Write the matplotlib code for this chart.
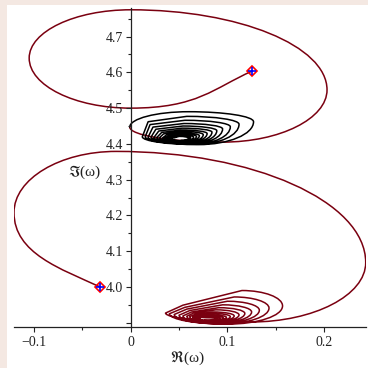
import matplotlib
matplotlib.use("Agg")
import matplotlib.pyplot as plt
from matplotlib.path import Path
from matplotlib.patches import PathPatch, Rectangle

plt.rcParams['mathtext.fontset'] = 'stix'
plt.rcParams['font.family'] = ['Liberation Serif', 'DejaVu Serif']

RED = '#7A0010'

# start points of the two trajectories and the direction they leave in
start_upper = (0.1258, 4.604)
start_lower = (-0.0317, 4.000)
lead_upper = (-0.040, -0.048)
lead_lower = (-0.040, 0.050)

# upper trajectory: big loop (extreme points, with tangent kind)
upper_x = [0.000, -0.105, 0.000, 0.203, 0.095, -0.001]
upper_y = [4.500, 4.640, 4.775, 4.551, 4.405, 4.447]
upper_k = ['h', 'v', 'h', 'v', 'h', 'v']

# upper spiral, first loop then the coarse inner loops
blk_first_x = [-0.001, 0.060, 0.127, 0.070]
blk_first_y = [4.447, 4.490, 4.462, 4.398]
blk_first_k = ['v', 'h', 'v', 'h']
blk_left_x = [0.012, 0.015, 0.018, 0.021, 0.024, 0.027, 0.030, 0.033, 0.035, 0.037, 0.039, 0.041]
blk_left_y = [4.420, 4.420, 4.419, 4.419, 4.418, 4.418, 4.418, 4.417, 4.417, 4.417, 4.417, 4.416]
blk_hi_x = [0.018, 0.020, 0.023, 0.026, 0.029, 0.032, 0.034, 0.037, 0.039, 0.041, 0.043, 0.045]
blk_hi_y = [4.462, 4.454, 4.447, 4.441, 4.436, 4.432, 4.428, 4.425, 4.422, 4.420, 4.418, 4.417]
blk_top_x = [0.058, 0.056, 0.055, 0.054, 0.053, 0.052, 0.051, 0.051, 0.050, 0.050, 0.050, 0.050]
blk_top_y = [4.477, 4.466, 4.457, 4.450, 4.444, 4.439, 4.435, 4.431, 4.428, 4.425, 4.423, 4.421]
blk_right_x = [0.112, 0.103, 0.095, 0.089, 0.084, 0.079, 0.075, 0.071, 0.068, 0.065, 0.062, 0.060]
blk_right_y = [4.455, 4.448, 4.442, 4.437, 4.433, 4.429, 4.426, 4.423, 4.421, 4.419, 4.417, 4.416]
blk_bot_x = [0.068, 0.066, 0.064, 0.062, 0.060, 0.058, 0.057, 0.056, 0.055, 0.054, 0.053, 0.052]
blk_bot_y = [4.399, 4.400, 4.401, 4.402, 4.403, 4.404, 4.405, 4.406, 4.407, 4.408, 4.409, 4.410]

# lower trajectory: big loop
lower_x = [-0.1207, -0.015, 0.243, 0.124]
lower_y = [4.208, 4.379, 4.068, 3.902]
lower_k = ['v', 'h', 'v', 'h']

# lower spiral loops
red_left_x = [0.036, 0.040, 0.045, 0.050, 0.054, 0.058, 0.061, 0.064, 0.066, 0.068, 0.070, 0.071]
red_left_y = [3.927, 3.925, 3.923, 3.921, 3.919, 3.918, 3.917, 3.916, 3.915, 3.914, 3.913, 3.912]
red_hi_x = [0.054, 0.056, 0.058, 0.061, 0.063, 0.065, 0.067, 0.069, 0.070, 0.071, 0.072, 0.073]
red_hi_y = [3.949, 3.943, 3.938, 3.934, 3.930, 3.927, 3.924, 3.922, 3.920, 3.918, 3.917, 3.915]
red_top_x = [0.115, 0.107, 0.100, 0.095, 0.091, 0.088, 0.085, 0.083, 0.081, 0.080, 0.079, 0.078]
red_top_y = [3.990, 3.972, 3.960, 3.950, 3.942, 3.936, 3.930, 3.926, 3.922, 3.919, 3.916, 3.914]
red_right_x = [0.157, 0.143, 0.133, 0.125, 0.118, 0.112, 0.107, 0.103, 0.099, 0.096, 0.093, 0.090]
red_right_y = [3.947, 3.941, 3.935, 3.930, 3.926, 3.922, 3.919, 3.917, 3.915, 3.913, 3.911, 3.910]
red_bot_x = [0.100, 0.095, 0.091, 0.088, 0.085, 0.083, 0.081, 0.080, 0.079, 0.078, 0.077, 0.076]
red_bot_y = [3.896, 3.897, 3.898, 3.899, 3.900, 3.901, 3.902, 3.903, 3.904, 3.905, 3.906, 3.907]

xticks = [-0.1, 0, 0.1, 0.2]
xticklabels = ['\u22120.1', '0', '0.1', '0.2']
yticks = [3.9, 4.0, 4.1, 4.2, 4.3, 4.4, 4.5, 4.6, 4.7]
yticklabels = ['', '4.0', '4.1', '4.2', '4.3', '4.4', '4.5', '4.6', '4.7']


def handle(p, q, k=0.55):
    x, y, kind = p[:3]
    if kind == 'h':
        return (x + k * (q[0] - x), y)
    if kind == 'v':
        return (x, y + k * (q[1] - y))
    # start point carries its own lead-out direction
    return (x + p[3], y + p[4])


def trace(pts):
    verts = [pts[0][:2]]
    codes = [Path.MOVETO]
    for a, b in zip(pts[:-1], pts[1:]):
        if a[2] == 'p' or b[2] == 'p':
            verts.append(b[:2])
            codes.append(Path.LINETO)
        else:
            verts += [handle(a, b), handle(b, a), b[:2]]
            codes += [Path.CURVE4] * 3
    return Path(verts, codes)


def loops(lx, ly, hx, hy, tx, ty, rx, ry, bx, by):
    # smooth round the bottom and left, then a coarse straight run up to the top
    pts = []
    for i in range(len(tx)):
        pts += [(lx[i], ly[i], 'v'), (hx[i], hy[i], 'p'), (tx[i], ty[i], 'p'),
                (tx[i], ty[i], 'h'), (rx[i], ry[i], 'v'), (bx[i], by[i], 'h')]
    return pts


fig = plt.figure(figsize=(3.68, 3.68), dpi=100, facecolor='#F4E8E2')
fig.patches.append(Rectangle((7 / 368, 0), 1, 1 - 5 / 368, transform=fig.transFigure,
                             facecolor='white', edgecolor='none', zorder=-10))
ax = fig.add_axes([14 / 368, 1 - 327 / 368, 352 / 368, 319 / 368])
ax.set_facecolor('none')
ax.set_zorder(5)

upper = [start_upper + ('s',) + lead_upper] + list(zip(upper_x, upper_y, upper_k))
black = list(zip(blk_first_x, blk_first_y, blk_first_k))
black += loops(blk_left_x, blk_left_y, blk_hi_x, blk_hi_y, blk_top_x, blk_top_y,
               blk_right_x, blk_right_y, blk_bot_x, blk_bot_y)
lower = [start_lower + ('s',) + lead_lower] + list(zip(lower_x, lower_y, lower_k))
lower += loops(red_left_x, red_left_y, red_hi_x, red_hi_y, red_top_x, red_top_y,
               red_right_x, red_right_y, red_bot_x, red_bot_y)

for pts, col in [(upper, RED), (black, 'black'), (lower, RED)]:
    ax.add_patch(PathPatch(trace(pts), facecolor='none', edgecolor=col, lw=1.1,
                           joinstyle='round', capstyle='round'))

for sx, sy in [start_upper, start_lower]:
    ax.plot(sx, sy, marker='D', ms=5, mfc='none', mec='red', mew=1.2)
    ax.plot(sx, sy, marker='+', ms=6, mec='blue', mew=1.2)

ax.set_xlim(-0.1207, 0.2433)
ax.set_ylim(3.888, 4.780)

ax.spines['left'].set_position(('data', 0))
ax.spines['top'].set_visible(False)
ax.spines['right'].set_visible(False)
for s in ['left', 'bottom']:
    ax.spines[s].set_color('#222222')
    ax.spines[s].set_linewidth(0.9)

ax.set_xticks(xticks)
ax.set_xticklabels(xticklabels)
ax.set_xticks([-0.05, 0.05, 0.15], minor=True)
ax.set_yticks(yticks)
ax.set_yticklabels(yticklabels)
ax.set_yticks([3.95, 4.05, 4.15, 4.25, 4.35, 4.45, 4.55, 4.65, 4.75], minor=True)
ax.tick_params(which='major', direction='out', length=3.5, width=0.8, color='#222222',
               labelsize=10, labelcolor='#222222')
ax.tick_params(which='minor', direction='out', length=2.5, width=0.8, color='#222222')
ax.tick_params(axis='y', pad=2.0)
ax.tick_params(axis='x', pad=3)

fig.text(187 / 368, 1 - 358 / 368, r'$\Re$(ω)', ha='center', va='center',
         fontsize=11, color='#222222')
fig.text(85 / 368, 1 - 172 / 368, r'$\Im$(ω)', ha='center', va='center',
         fontsize=11, color='#222222')

fig.savefig('out.png', dpi=100, facecolor=fig.get_facecolor())
